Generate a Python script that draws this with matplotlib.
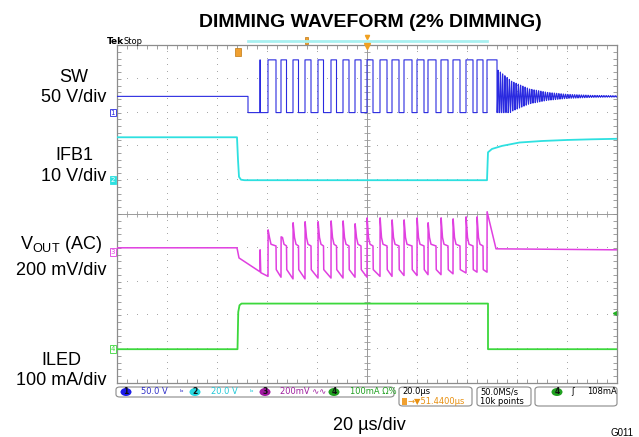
import numpy as np
import matplotlib
matplotlib.use("Agg")
import matplotlib.pyplot as plt
from matplotlib.patches import FancyBboxPatch, Ellipse, Rectangle
from matplotlib.ticker import MultipleLocator

plt.rcParams['font.family'] = ['Liberation Sans', 'DejaVu Sans']
plt.rcParams['mathtext.fontset'] = 'custom'
plt.rcParams['mathtext.rm'] = 'Liberation Sans'

W, H = 639, 437


def fx(px):
    return px / W


def fy(py):
    return 1 - py / H


# ---- values (time in us, trigger at 0) ----
# CH1 SW, 50 V/div, ground 3 div above centre
sw_idle_v = 24
sw_high_v = 78
sw_off_us = -47.6
sw_spike_us = -42.8
sw_rise_us = [-39.6, -34.4, -29.6, -24.8, -19.6, -14.4, -9.6, -4.8, 0.0, 5.2,
              10.0, 14.8, 20.0, 24.4, 29.6, 34.4, 39.6, 44.0, 48.0]
sw_width_us = [3.2, 2.2, 2.2, 2.4, 2.2, 2.2, 2.4, 2.4, 2.4, 2.8,
               2.8, 3.2, 2.8, 3.2, 2.8, 2.8, 2.8, 2.4, 4.0]
ring_t_us = [52, 58, 65, 72, 80, 90, 100]
ring_amp_v = [40, 22, 11, 6, 3, 1.5, 1]
ring_period_us = 0.9

# CH2 IFB1, 20 V/div on the scope, ground 1 div above centre
ifb_t_us = [-100, -52.0, -51.6, -51.2, -50.4, -49.0, 48.0, 48.4, 50, 54, 61, 70, 80, 90, 100]
ifb_v = [25.4, 25.4, 12, 2, 0.3, 0, 0, 16.5, 18.5, 20.3, 22.3, 23.2, 23.8, 24.2, 24.5]

# CH3 VOUT (AC), 200 mV/div, marker 1.12 div below centre
vout_pre_mv = 24
vout_ramp_t = [-52.0, -51.2, -42.8]
vout_ramp_mv = [24, -36, -118]
vout_spike0_mv = 12
vout_peak_mv = [130, 89, 172, 178, 178, 183, 183, 166, 201, 201,
                189, 189, 201, 172, 201, 195, 207, 207, 237]
vout_trough_mv = [-145, -150, -160, -160, -155, -155, -155, -150, -150, -145,
                  -145, -140, -140, -135, -135, -130, -125, -120, -120]
vout_plateau_mv = 45
vout_drop_mv = -105
vout_post_t = [51.6, 100]
vout_post_mv = [18, 12]

# CH4 ILED, 100 mA/div, ground 4 div below centre
iled_t_us = [-100, -51.8, -51.5, -51.0, -50.2, 48.4, 48.4, 100]
iled_ma = [0, 0, 110, 130, 135, 135, 0, 0]
trig_level_ma = 108

# channel scale (unit per div) and ground position (div)
ch_scale = [50, 20, 200, 100]
ch_pos = [3.0, 1.0, -1.12, -4.0]
ch_color = ['#2a2ae0', '#2ee0e0', '#e040e0', '#3cd83c']

# ---- build traces ----
st = [-100, sw_off_us, sw_off_us, sw_spike_us, sw_spike_us, sw_spike_us + 0.1, sw_spike_us + 0.1]
sv = [sw_idle_v, sw_idle_v, 0, 0, sw_high_v, sw_high_v, 0]
for r, w in zip(sw_rise_us, sw_width_us):
    st += [r, r, r + w, r + w]
    sv += [0, sw_high_v, sw_high_v, 0]
tr = np.arange(sw_rise_us[-1] + sw_width_us[-1], 100.01, 0.05)
env = np.interp(tr, ring_t_us, ring_amp_v)
vr = np.maximum(sw_idle_v - env * np.cos(2 * np.pi * (tr - tr[0]) / ring_period_us), 0)
st = np.concatenate([st, tr])
sv = np.concatenate([sv, vr])

vt = [-100.0] + vout_ramp_t + [sw_spike_us + 0.05, sw_spike_us + 0.3]
vv = [vout_pre_mv] + vout_ramp_mv + [vout_spike0_mv, vout_ramp_mv[-1] - 5]
n = len(sw_rise_us)
for i in range(n):
    r, w = sw_rise_us[i], sw_width_us[i]
    vt += [r, r + 0.05]
    vv += [vout_trough_mv[i], vout_peak_mv[i]]
    if i < n - 1:
        vt += [r + 0.6, r + 1.2, r + w, r + w + 0.1, sw_rise_us[i + 1] - 0.05]
        vv += [vout_plateau_mv + 40, vout_plateau_mv, vout_plateau_mv - 10,
               vout_drop_mv, vout_trough_mv[i + 1]]
vt += vout_post_t
vv += vout_post_mv

fig = plt.figure(figsize=(W / 100, H / 100), dpi=100)
ax = fig.add_axes([fx(117), fy(383), (617 - 117) / W, (383 - 45) / H])
ax.set_xlim(-100, 100)
ax.set_ylim(-5, 5)

# graticule
ax.xaxis.set_major_locator(MultipleLocator(20))
ax.yaxis.set_major_locator(MultipleLocator(1))
ax.xaxis.set_minor_locator(MultipleLocator(4))
ax.yaxis.set_minor_locator(MultipleLocator(0.2))
ax.tick_params(which='both', direction='in', length=3, width=0.6, color='#909090',
               top=True, right=True, labelbottom=False, labelleft=False)
for s in ax.spines.values():
    s.set_color('#8c8c8c')
    s.set_linewidth(0.9)
gx, gy = [], []
for x in range(-80, 81, 20):
    if x != 0:
        for y in np.arange(-5, 5.01, 0.2):
            gx.append(x)
            gy.append(y)
for y in range(-4, 5):
    if y != 0:
        for x in range(-100, 101, 4):
            gx.append(x)
            gy.append(y)
ax.plot(gx, gy, ',', color='#a8a8a8', zorder=1)
ax.axhline(0, color='#9a9a9a', lw=0.7, zorder=1)
ax.axvline(0, color='#9a9a9a', lw=0.7, zorder=1)
mx = np.arange(-100, 101, 4)
my = np.arange(-5, 5.01, 0.2)
ax.plot(mx, np.zeros_like(mx), '|', color='#9a9a9a', ms=4, mew=0.6, zorder=1)
ax.plot(np.zeros_like(my), my, '_', color='#9a9a9a', ms=4, mew=0.6, zorder=1)

# traces
ax.plot(st, ch_pos[0] + sv / ch_scale[0], color=ch_color[0], lw=0.8, zorder=3)
ax.plot(ifb_t_us, ch_pos[1] + np.array(ifb_v) / ch_scale[1], color=ch_color[1], lw=1.3, zorder=3)
ax.plot(vt, ch_pos[2] + np.array(vv) / ch_scale[2], color=ch_color[2], lw=1.1, zorder=3)
ax.plot(iled_t_us, ch_pos[3] + np.array(iled_ma) / ch_scale[3], color=ch_color[3], lw=1.3, zorder=3)
ax.plot([99], [ch_pos[3] + trig_level_ma / ch_scale[3]], '<', color='#20b020', ms=3, clip_on=False)

# channel ground markers
for k in range(4):
    filled = k == 1
    ax.text(-100.8, ch_pos[k], str(k + 1), ha='right', va='center', fontsize=5,
            family='DejaVu Sans', color='white' if filled else ch_color[k],
            bbox=dict(boxstyle='square,pad=0.12', fc=ch_color[k] if filled else 'white',
                      ec=ch_color[k], lw=0.6), clip_on=False, zorder=5)

# top: title, Tek Stop, record bar, trigger marks
fig.text(fx(370), fy(27), 'DIMMING WAVEFORM (2% DIMMING)', ha='center', va='baseline',
         fontsize=14, fontweight='bold')
fig.text(fx(107), fy(44), 'Tek', ha='left', va='baseline', fontsize=6.5, fontweight='bold',
         family='DejaVu Sans')
fig.text(fx(124), fy(44), 'Stop', ha='left', va='baseline', fontsize=6, family='DejaVu Sans')
fig.lines.append(plt.Line2D([fx(248), fx(487)], [fy(40.5), fy(40.5)], color='#a8f0f0', lw=2,
                            transform=fig.transFigure))
fig.patches.append(Rectangle((fx(304.5), fy(44)), 3 / W, 7 / H, fc='#f0a030', ec='#c07810',
                             lw=0.5, transform=fig.transFigure))
fig.lines.append(plt.Line2D([fx(367)], [fy(37)], marker='v', ms=3, color='#f0a020',
                            transform=fig.transFigure))
fig.lines.append(plt.Line2D([fx(367)], [fy(46)], marker='v', ms=4, color='#f0a020',
                            transform=fig.transFigure))
fig.patches.append(Rectangle((fx(235), fy(56)), 6 / W, 8 / H, fc='#f0a030', ec='#c07810',
                             lw=0.5, transform=fig.transFigure))

# left channel labels
fs = 13
fig.text(fx(74), fy(82), 'SW', ha='center', va='baseline', fontsize=fs)
fig.text(fx(74), fy(102), '50 V/div', ha='center', va='baseline', fontsize=fs)
fig.text(fx(74), fy(160), 'IFB1', ha='center', va='baseline', fontsize=fs)
fig.text(fx(74), fy(181), '10 V/div', ha='center', va='baseline', fontsize=fs)
fig.text(fx(61), fy(249), r'V$_{\mathrm{OUT}}$ (AC)', ha='center', va='baseline', fontsize=fs)
fig.text(fx(61), fy(275), '200 mV/div', ha='center', va='baseline', fontsize=fs)
fig.text(fx(61), fy(365), 'ILED', ha='center', va='baseline', fontsize=fs)
fig.text(fx(61), fy(385), '100 mA/div', ha='center', va='baseline', fontsize=fs)

# status bar


def box(x0, y0, x1, y1):
    fig.patches.append(FancyBboxPatch((fx(x0), fy(y1)), (x1 - x0) / W, (y1 - y0) / H,
                                      boxstyle='round,pad=0,rounding_size=0.006',
                                      transform=fig.transFigure, fc='white', ec='#8a8a8a', lw=0.8))


def badge(cx, cy, label, col):
    fig.patches.append(Ellipse((fx(cx), fy(cy)), 11 / W, 8 / H, fc=col, ec='none',
                               transform=fig.transFigure))
    fig.text(fx(cx), fy(cy), label, ha='center', va='center', fontsize=5.5,
             family='DejaVu Sans', fontweight='bold', color='#101010')


sfs = 6
box(116, 387, 394, 397)
box(399, 387, 472, 406)
box(477, 387, 531, 406)
box(535, 387, 617, 406)
badge(126, 392, '1', '#1c1ce8')
fig.text(fx(141), fy(392), '50.0 V', va='center', fontsize=sfs, family='DejaVu Sans', color='#3030c8')
fig.text(fx(180), fy(392), 'ᵇ', va='center', fontsize=sfs, family='DejaVu Sans', color='#3030c8')
badge(195, 392, '2', '#28d8e0')
fig.text(fx(211), fy(392), '20.0 V', va='center', fontsize=sfs, family='DejaVu Sans', color='#20c8d8')
fig.text(fx(249), fy(392), 'ᵇ', va='center', fontsize=sfs, family='DejaVu Sans', color='#20c8d8')
badge(265, 392, '3', '#a018a0')
fig.text(fx(280), fy(392), '200mV ∿∿', va='center', fontsize=sfs, family='DejaVu Sans', color='#a020a0')
badge(334, 392, '4', '#20a020')
fig.text(fx(350), fy(392), '100mA Ω%', va='center', fontsize=sfs, family='DejaVu Sans', color='#20a020')
fig.text(fx(402), fy(392), '20.0µs', va='center', fontsize=sfs, family='DejaVu Sans')
fig.patches.append(Rectangle((fx(402), fy(404.5)), 5 / W, 7 / H, fc='#f0a030', ec='none',
                             transform=fig.transFigure))
fig.text(fx(408), fy(401), '→▼51.4400µs', va='center', fontsize=sfs, family='DejaVu Sans',
         color='#e89010')
fig.text(fx(480), fy(392), '50.0MS/s', va='center', fontsize=sfs, family='DejaVu Sans')
fig.text(fx(480), fy(401), '10k points', va='center', fontsize=sfs, family='DejaVu Sans')
badge(557, 392, '4', '#20a020')
fig.text(fx(573), fy(392), 'ʃ', va='center', ha='center', fontsize=sfs, family='DejaVu Sans')
fig.text(fx(587), fy(392), '108mA', va='center', fontsize=sfs, family='DejaVu Sans')

fig.text(fx(369), fy(430), '20 µs/div', ha='center', va='baseline', fontsize=fs)
fig.text(fx(622), fy(436), 'G011', ha='center', va='baseline', fontsize=7)

fig.savefig('out.png', dpi=100)
